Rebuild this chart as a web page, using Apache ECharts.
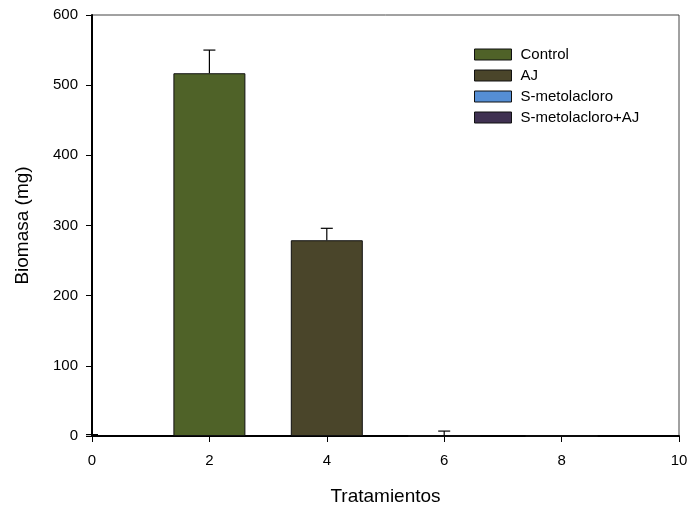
<!DOCTYPE html>
<html><head><meta charset="utf-8">
<script src="https://cdn.jsdelivr.net/npm/echarts@6/dist/echarts.min.js"></script>
<style>html,body{margin:0;padding:0;background:#fff}#c{width:691px;height:514px}</style>
</head><body><div id="c"></div>
<script>
const seriesNames = ['Control', 'AJ', 'S-metolacloro', 'S-metolacloro+AJ'];
const xPositions = [2, 4, 6, 8];
const means = [517, 279, 0, 0];
const errors = [33, 17, 7, 0];
const extraErrX = [0];
const extraErrMean = [0];
const extraErr = [2];
const colors = ['#4f6228', '#4a452a', '#558ed5', '#403152'];
const xTicks = [0, 2, 4, 6, 8, 10];
const yTicks = [0, 100, 200, 300, 400, 500, 600];

const chart = echarts.init(document.getElementById('c'));
const font = 'Liberation Sans, Arial, sans-serif';
const series = seriesNames.map((n, i) => ({
  name: n, type: 'bar', barWidth: 72, barGap: '-100%',
  data: [[xPositions[i], means[i]]],
  itemStyle: { color: colors[i], borderColor: '#111', borderWidth: 1 },
  z: 2
}));
const errData = xPositions.map((x, i) => [x, means[i], errors[i]]).filter(d => d[2] > 0)
  .concat(extraErrX.map((x, i) => [x, extraErrMean[i], extraErr[i]]));
series.push({
  type: 'custom', name: 'err', z: 5,
  data: errData,
  renderItem: function (params, api) {
    const x = api.value(0), m = api.value(1), e = api.value(2);
    const p0 = api.coord([x, m]);
    const p1 = api.coord([x, m + e]);
    const hw = 6;
    return { type: 'group', children: [
      { type: 'line', shape: { x1: p0[0], y1: p0[1], x2: p1[0], y2: p1[1] }, style: { stroke: '#000', lineWidth: 1.2 } },
      { type: 'line', shape: { x1: p1[0] - hw, y1: p1[1], x2: p1[0] + hw, y2: p1[1] }, style: { stroke: '#000', lineWidth: 1.2 } }
    ]};
  }
});
chart.setOption({
  animation: false,
  grid: { left: 92, right: 12, top: 15, bottom: 78, show: true, borderColor: '#444', borderWidth: 1, backgroundColor: 'transparent' },
  legend: {
    data: seriesNames, orient: 'vertical', left: 469, top: 42,
    itemWidth: 37, itemHeight: 11, itemGap: 6,
    icon: 'rect',
    textStyle: { fontFamily: font, fontSize: 15, color: '#000', padding: [0, 0, 0, 4] },
    itemStyle: { borderColor: '#111', borderWidth: 1 }
  },
  xAxis: {
    type: 'value', min: xTicks[0], max: xTicks[xTicks.length - 1], interval: 2,
    name: 'Tratamientos', nameLocation: 'middle', nameGap: 51,
    nameTextStyle: { fontFamily: font, fontSize: 19, color: '#000' },
    axisLine: { lineStyle: { color: '#000', width: 2 } },
    axisTick: { show: true, length: 6, lineStyle: { color: '#000' } },
    axisLabel: { fontFamily: font, fontSize: 15, color: '#000', margin: 17 },
    splitLine: { show: false }
  },
  yAxis: {
    type: 'value', min: yTicks[0], max: yTicks[yTicks.length - 1], interval: 100,
    name: 'Biomasa (mg)', nameLocation: 'middle', nameGap: 60, nameRotate: 90,
    nameTextStyle: { fontFamily: font, fontSize: 19, color: '#000' },
    axisLine: { show: true, lineStyle: { color: '#000', width: 2 } },
    axisTick: { show: true, length: 6, lineStyle: { color: '#000' } },
    axisLabel: { fontFamily: font, fontSize: 15, color: '#000', margin: 14 },
    splitLine: { show: false }
  },
  series: series
});
</script></body></html>
